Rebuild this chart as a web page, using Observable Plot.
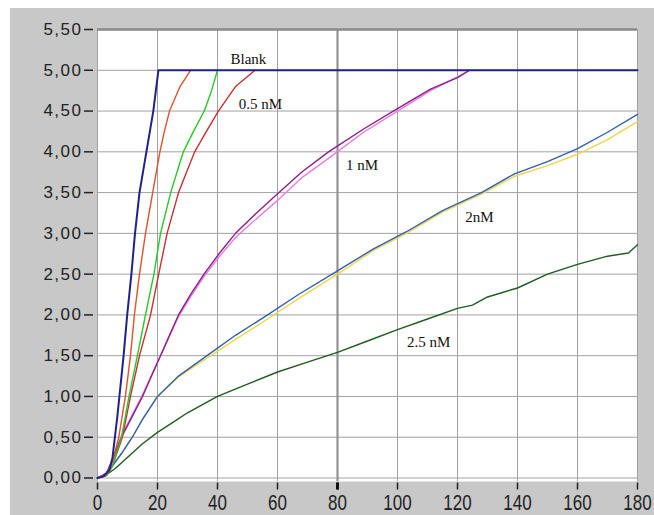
<!DOCTYPE html>
<html><head><meta charset="utf-8">
<script src="https://cdn.jsdelivr.net/npm/d3@7"></script>
<script src="https://cdn.jsdelivr.net/npm/@observablehq/plot@0.6"></script>
<style>
body{margin:0;background:#fff;}
#wrap{position:relative;width:654px;height:515px;overflow:hidden;}
#bg{position:absolute;left:10px;top:8px;right:0;bottom:0;background:#c8c8c8;}
#chart{position:absolute;left:0;top:0;}
#chart g[aria-label="y-axis tick label"] text{letter-spacing:1.5px;}
</style></head><body><div id="wrap"><div id="bg"></div><div id="chart"></div></div>
<script>
const xTicks = [0, 20, 40, 60, 80, 100, 120, 140, 160, 180];
const yTicks = [0, 0.5, 1, 1.5, 2, 2.5, 3, 3.5, 4, 4.5, 5, 5.5];

const blank = [[0,0],[2,0.02],[4,0.1],[5,0.25],[5.8,0.5],[6.6,0.75],[7.3,1.0],[8,1.25],[8.7,1.5],[9.9,2.0],[11.3,2.5],[12.5,3.0],[14,3.5],[16.3,4.0],[18.6,4.5],[20.3,5.0],[180,5.0]];
const redA = [[0,0],[3,0.04],[5,0.2],[7.1,0.5],[9.3,1.0],[11,1.5],[12.3,2.0],[14,2.5],[16,3.0],[18.4,3.5],[20.8,4.0],[22.3,4.25],[24,4.5],[27.5,4.8],[31,5.0]];
const greenA = [[0,0],[3,0.03],[5,0.15],[8,0.5],[10.5,1.0],[13.3,1.5],[16,2.0],[18.8,2.5],[21,3.0],[24.4,3.5],[28.6,4.0],[32,4.25],[35.6,4.5],[38,4.75],[40,5.0]];
const red05 = [[0,0],[3,0.03],[5,0.15],[8.3,0.5],[11,1.0],[14,1.5],[17.7,2.0],[20.4,2.5],[23.2,3.0],[27,3.5],[32.4,4.0],[36.3,4.25],[40.3,4.5],[46,4.8],[52.5,5.0]];
const nm1 = [[0,0],[3,0.06],[5,0.22],[8,0.5],[11.5,0.75],[15,1.0],[18,1.25],[21,1.5],[24,1.75],[27,2.0],[31,2.25],[35.5,2.5],[40.5,2.75],[46,3.0],[53,3.25],[60.5,3.5],[68,3.75],[77,4.0],[88.7,4.28],[100,4.53],[111,4.77],[120,4.91],[124,5.0]];
const nm1Pink = [[0,0],[3,0.06],[5,0.23],[8,0.52],[11.5,0.77],[15,1.02],[18,1.26],[21,1.5],[24,1.74],[27,1.98],[31,2.22],[35.5,2.47],[40.5,2.71],[46,2.95],[53,3.18],[60.5,3.42],[68,3.68],[77,3.92],[88.7,4.24],[100,4.5],[111,4.75],[120,4.92],[124,5.0]];
const nm2 = [[0,0],[3,0.05],[5,0.15],[8,0.3],[11.6,0.5],[15,0.72],[20,1.0],[27,1.25],[36.5,1.5],[46,1.75],[56.7,2.0],[67,2.25],[80,2.54],[92,2.81],[103,3.02],[115,3.28],[128,3.5],[139,3.73],[150,3.88],[160,4.04],[170,4.24],[180,4.46]];
const nm2Yellow = [[0,0],[3,0.05],[5,0.15],[8,0.3],[11.6,0.5],[15,0.72],[20,1.0],[27,1.24],[36.5,1.47],[46,1.7],[56.7,1.95],[67,2.2],[80,2.5],[92,2.79],[103,3.0],[115,3.26],[128,3.48],[139,3.7],[150,3.83],[160,3.97],[170,4.15],[180,4.37]];
const nm25 = [[0,0],[3,0.04],[6,0.12],[10.5,0.27],[15,0.42],[20,0.56],[25,0.68],[30,0.8],[35,0.9],[40,1.0],[50,1.15],[60,1.3],[70,1.42],[80,1.54],[90,1.68],[100,1.82],[110,1.95],[120,2.08],[125,2.12],[130,2.22],[140,2.33],[150,2.5],[160,2.62],[170,2.72],[177,2.76],[180,2.86]];

const labelText = ["Blank", "0.5 nM", "1 nM", "2nM", "2.5 nM"];
const labelT = [50.3, 54.3, 88.2, 127.3, 110.4];
const labelV = [5.14, 4.59, 3.83, 3.2, 1.66];
const labels = labelText.map((s, i) => ({s, t: labelT[i], v: labelV[i]}));

const rows = (pts) => pts.map(([t, v]) => ({t, v}));
const ln = (pts, stroke, w = 1.4) => Plot.line(rows(pts), {x: "t", y: "v", stroke, strokeWidth: w});
const fmt = (d) => d.toFixed(2).replace(".", ",");

const plot = Plot.plot({
  width: 654, height: 515,
  marginLeft: 97, marginRight: 17, marginTop: 29, marginBottom: 37.5,
  x: {domain: [0, 180], label: null},
  y: {domain: [0, 5.5], label: null},
  style: {background: "transparent", fontFamily: "Liberation Sans", color: "#222"},
  marks: [
    Plot.frame({fill: "white", stroke: null, insetBottom: -3.5}),
    Plot.gridX(xTicks, {stroke: "#a2a2a2", strokeOpacity: 1, y1: -0.045, y2: 5.5}),
    Plot.gridY(yTicks, {stroke: "#a2a2a2", strokeOpacity: 1}),
    Plot.ruleX([80], {stroke: "#939393", strokeWidth: 2.2, y1: -0.045, y2: 5.5}),
    Plot.ruleY([5.5], {stroke: "#8a8a8a", strokeWidth: 2.5}),
    ln(nm25, "#1d5e1d"),
    ln(nm2Yellow, "#f2d64a"),
    ln(nm2, "#2f5fb8"),
    ln(nm1Pink, "#e87ae8"),
    ln(nm1, "#8c1e8c"),
    ln(red05, "#c83030"),
    ln(greenA, "#28c828"),
    ln(redA, "#e2502c"),
    ln(blank, "#22228e", 2),
    Plot.text(labels, {x: "t", y: "v", text: "s", fontFamily: "Liberation Serif", fontSize: 15, fill: "#111"}),
    Plot.axisX(xTicks, {label: null, tickSize: 7, dy: 5, tickPadding: 4, fontSize: 17, strokeWidth: 1.5, color: "#222", tickFormat: (d) => String(d)}),
    Plot.axisX([80], {label: null, tickSize: 7, dy: 5, strokeWidth: 3, color: "#111", tickFormat: () => ""}),
    Plot.axisY(yTicks, {label: null, tickSize: 9, dx: -4, tickPadding: 2, fontSize: 17, strokeWidth: 1.5, color: "#222", tickFormat: fmt})
  ]
});
document.getElementById("chart").appendChild(plot);
d3.select(plot).selectAll('g[aria-label="x-axis tick label"] text').each(function () {
  const t = this.getAttribute("transform") || "";
  this.setAttribute("transform", t + " scale(1,1.3)");
});
</script>
</body></html>
